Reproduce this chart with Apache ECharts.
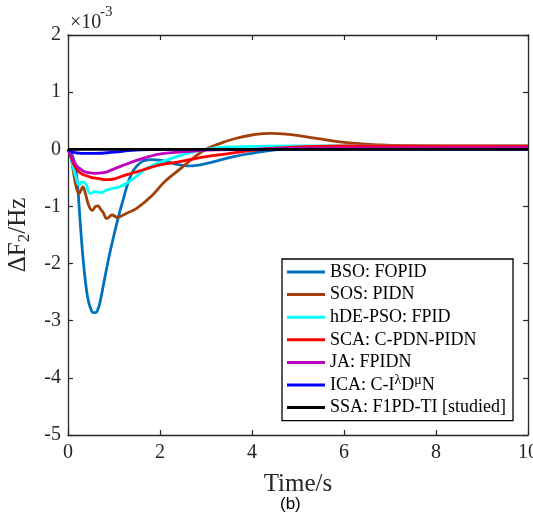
<!DOCTYPE html>
<html>
<head>
<meta charset="utf-8">
<script src="https://cdn.jsdelivr.net/npm/echarts@6/dist/echarts.min.js"></script>
<style>
html,body{margin:0;padding:0;background:#fff;}
#chart{width:533px;height:520px;}
</style>
</head>
<body>
<div id="chart"></div>
<script>
// ---- data (ΔF2 in units of 1e-3 Hz) ----
var seriesNames = ['BSO: FOPID', 'SOS: PIDN', 'hDE-PSO: FPID', 'SCA: C-PDN-PIDN', 'JA: FPIDN', 'ICA: C-I\u03BBD\u03BCN', 'SSA: F1PD-TI [studied]'];
var xTicks = [0, 2, 4, 6, 8, 10];
var yTicks = [-5, -4, -3, -2, -1, 0, 1, 2];

var tBSO = [0, 0.05, 0.1, 0.15, 0.2, 0.25, 0.3, 0.35, 0.4, 0.45, 0.5, 0.55, 0.6, 0.65, 0.7, 0.8, 0.9, 1.0, 1.1, 1.2, 1.3, 1.4, 1.5, 1.6, 1.7, 1.8, 2.0, 2.2, 2.4, 2.6, 2.8, 3.0, 3.3, 3.6, 4.0, 4.5, 5.0, 6.0, 7.0, 8.0, 10.0];
var vBSO = [0, -0.04, -0.12, -0.28, -0.55, -1.1, -1.65, -2.1, -2.45, -2.68, -2.8, -2.86, -2.86, -2.8, -2.66, -2.25, -1.85, -1.5, -1.17, -0.88, -0.6, -0.4, -0.29, -0.22, -0.19, -0.18, -0.19, -0.23, -0.27, -0.29, -0.28, -0.25, -0.19, -0.13, -0.07, -0.01, 0.03, 0.05, 0.05, 0.05, 0.05];

var tSOS = [0, 0.05, 0.1, 0.15, 0.2, 0.24, 0.28, 0.32, 0.38, 0.45, 0.53, 0.6, 0.65, 0.7, 0.76, 0.85, 0.96, 1.07, 1.18, 1.3, 1.5, 1.8, 2.1, 2.4, 2.7, 3.0, 3.3, 3.6, 4.0, 4.4, 4.8, 5.4, 6.0, 6.8, 7.5, 8.5, 10.0];
var vSOS = [0, -0.1, -0.3, -0.55, -0.72, -0.77, -0.72, -0.66, -0.78, -0.98, -1.07, -1.0, -0.99, -1.04, -1.1, -1.21, -1.15, -1.19, -1.16, -1.11, -1.03, -0.83, -0.57, -0.37, -0.17, 0.0, 0.1, 0.18, 0.25, 0.28, 0.26, 0.19, 0.12, 0.075, 0.06, 0.05, 0.05];

var tHDE = [0, 0.05, 0.1, 0.17, 0.24, 0.31, 0.38, 0.49, 0.6, 0.71, 0.85, 1.0, 1.14, 1.3, 1.43, 1.58, 1.72, 1.9, 2.1, 2.4, 2.7, 3.0, 3.5, 4.0, 5.0, 6.0, 10.0];
var vHDE = [0, -0.1, -0.28, -0.48, -0.62, -0.57, -0.6, -0.77, -0.74, -0.76, -0.71, -0.68, -0.65, -0.58, -0.51, -0.41, -0.33, -0.26, -0.2, -0.12, -0.05, 0.0, 0.04, 0.05, 0.06, 0.06, 0.06];

var tSCA = [0, 0.05, 0.09, 0.15, 0.2, 0.28, 0.35, 0.5, 0.64, 0.85, 1.0, 1.14, 1.3, 1.51, 1.75, 2.02, 2.4, 2.72, 3.0, 3.45, 4.0, 4.5, 5.0, 6.0, 10.0];
var vSCA = [0, -0.1, -0.19, -0.3, -0.36, -0.42, -0.45, -0.49, -0.51, -0.53, -0.52, -0.48, -0.44, -0.39, -0.33, -0.27, -0.22, -0.17, -0.13, -0.08, -0.02, 0.02, 0.04, 0.06, 0.06];

var tJA = [0, 0.05, 0.09, 0.15, 0.2, 0.28, 0.35, 0.45, 0.57, 0.78, 0.95, 1.14, 1.3, 1.51, 1.75, 2.02, 2.4, 2.72, 3.2, 4.0, 5.0, 10.0];
var vJA = [0, -0.08, -0.15, -0.24, -0.3, -0.35, -0.39, -0.41, -0.42, -0.41, -0.36, -0.3, -0.25, -0.19, -0.13, -0.08, -0.05, -0.03, -0.01, 0.0, 0.02, 0.03];

var tICA = [0, 0.1, 0.3, 0.6, 1.0, 1.4, 2.0, 3.0, 10.0];
var vICA = [0, -0.05, -0.07, -0.07, -0.05, -0.02, 0, 0, 0];

var tSSA = [0, 10.0];
var vSSA = [0, 0];

var colors = ['#0072BD', '#A2400B', '#00FFFF', '#FF0000', '#BF00BF', '#0000FF', '#000000'];

function pairs(t, v) { return t.map(function (x, i) { return [x, v[i]]; }); }
var allT = [tBSO, tSOS, tHDE, tSCA, tJA, tICA, tSSA];
var allV = [vBSO, vSOS, vHDE, vSCA, vJA, vICA, vSSA];

var serif = 'Liberation Serif';
var axisCol = '#262626';

// legend geometry (used to place the raised superscripts of the ICA entry)
var legLeft = 282, legTop = 259, legPad = [4, 7, 4, 5], legIconW = 38, legTextGap = 5, legGap = 4.6, legLineH = 18;
var supFont = '14px "Liberation Serif"', mainFont = '18px "Liberation Serif"';
var mctx = document.createElement('canvas').getContext('2d');
function tw(s, f) { mctx.font = f; return mctx.measureText(s).width; }
var icaRow = 5;
var icaTextX = legLeft + legPad[3] + legIconW + legTextGap;
var icaRowTop = legTop + legPad[0] + icaRow * (legLineH + legGap);
var xLam = icaTextX + tw('ICA: C-I', mainFont);
var xMu = xLam + tw('\u03BB', supFont) + tw('D', mainFont);

var series = seriesNames.map(function (n, i) {
  return {
    name: n, type: 'line', data: pairs(allT[i], allV[i]),
    showSymbol: false, smooth: 0.5,
    lineStyle: { color: colors[i], width: 2.8 }, itemStyle: { color: colors[i] },
    xAxisIndex: 0, yAxisIndex: 0, z: 2 + i
  };
});

var chart = echarts.init(document.getElementById('chart'), null, { renderer: 'canvas' });
var axisCommon = {
  axisLine: { show: true, onZero: false, lineStyle: { color: axisCol, width: 1.3 } },
  axisTick: { show: true, inside: true, length: 5, lineStyle: { color: axisCol, width: 1.2 } },
  splitLine: { show: false }
};
chart.setOption({
  animation: false,
  backgroundColor: '#fff',
  grid: { left: 68, right: 5, top: 35, bottom: 85, containLabel: false, outerBoundsMode: 'none' },
  xAxis: [
    Object.assign({ type: 'value', min: xTicks[0], max: xTicks[xTicks.length - 1], interval: 2, position: 'bottom',
      name: 'Time/s', nameLocation: 'middle', nameGap: 37,
      nameTextStyle: { fontFamily: serif, fontSize: 25, color: axisCol },
      axisLabel: { show: true, margin: 8, fontFamily: serif, fontSize: 20, color: axisCol } }, axisCommon),
    Object.assign({ type: 'value', min: xTicks[0], max: xTicks[xTicks.length - 1], interval: 2, position: 'top',
      axisLabel: { show: false } }, axisCommon)
  ],
  yAxis: [
    Object.assign({ type: 'value', min: yTicks[0], max: yTicks[yTicks.length - 1], interval: 1, position: 'left',
      name: '{a|\u0394F}{b|2}{a|/Hz}', nameLocation: 'middle', nameGap: 34, nameRotate: 90,
      nameTextStyle: { color: axisCol, rich: {
        a: { fontFamily: serif, fontSize: 25, color: axisCol, lineHeight: 30 },
        b: { fontFamily: serif, fontSize: 17, color: axisCol, lineHeight: 30, verticalAlign: 'bottom', padding: [12, 0, 0, 0] } } },
      axisLabel: { show: true, margin: 7, fontFamily: serif, fontSize: 20, color: axisCol } }, axisCommon),
    Object.assign({ type: 'value', min: yTicks[0], max: yTicks[yTicks.length - 1], interval: 1, position: 'right',
      axisLabel: { show: false } }, axisCommon)
  ],
  legend: {
    show: true, orient: 'vertical', left: legLeft, top: legTop,
    data: seriesNames.map(function (n) { return { name: n, icon: 'rect' }; }),
    itemWidth: legIconW, itemHeight: 3, itemGap: legGap, itemTextGap: legTextGap,
    padding: legPad,
    borderColor: '#000', borderWidth: 1.3, backgroundColor: '#fff',
    formatter: function (n) {
      if (n === seriesNames[5]) return 'ICA: C-I{g|\u03BB}D{g|\u03BC}N';
      return n;
    },
    textStyle: { fontFamily: serif, fontSize: 18, color: '#000', lineHeight: legLineH,
      rich: { g: { fontFamily: serif, fontSize: 14, color: 'rgba(0,0,0,0)', lineHeight: legLineH } } }
  },
  graphic: [
    { type: 'text', left: 70, top: 13, style: { text: '\u00D710', font: '20px "Liberation Serif"', fill: axisCol } },
    { type: 'text', left: 100, top: 5, style: { text: '-3', font: '15px "Liberation Serif"', fill: axisCol } },
    { type: 'text', left: 280, top: 496, style: { text: '(b)', font: '17px "Liberation Sans"', fill: '#000' } },
    { type: 'text', z: 100, x: xLam, y: icaRowTop - 3, style: { text: '\u03BB', font: supFont, fill: '#000', textVerticalAlign: 'top' } },
    { type: 'text', z: 100, x: xMu, y: icaRowTop - 3, style: { text: '\u03BC', font: supFont, fill: '#000', textVerticalAlign: 'top' } }
  ],
  series: series
});
</script>
</body>
</html>
